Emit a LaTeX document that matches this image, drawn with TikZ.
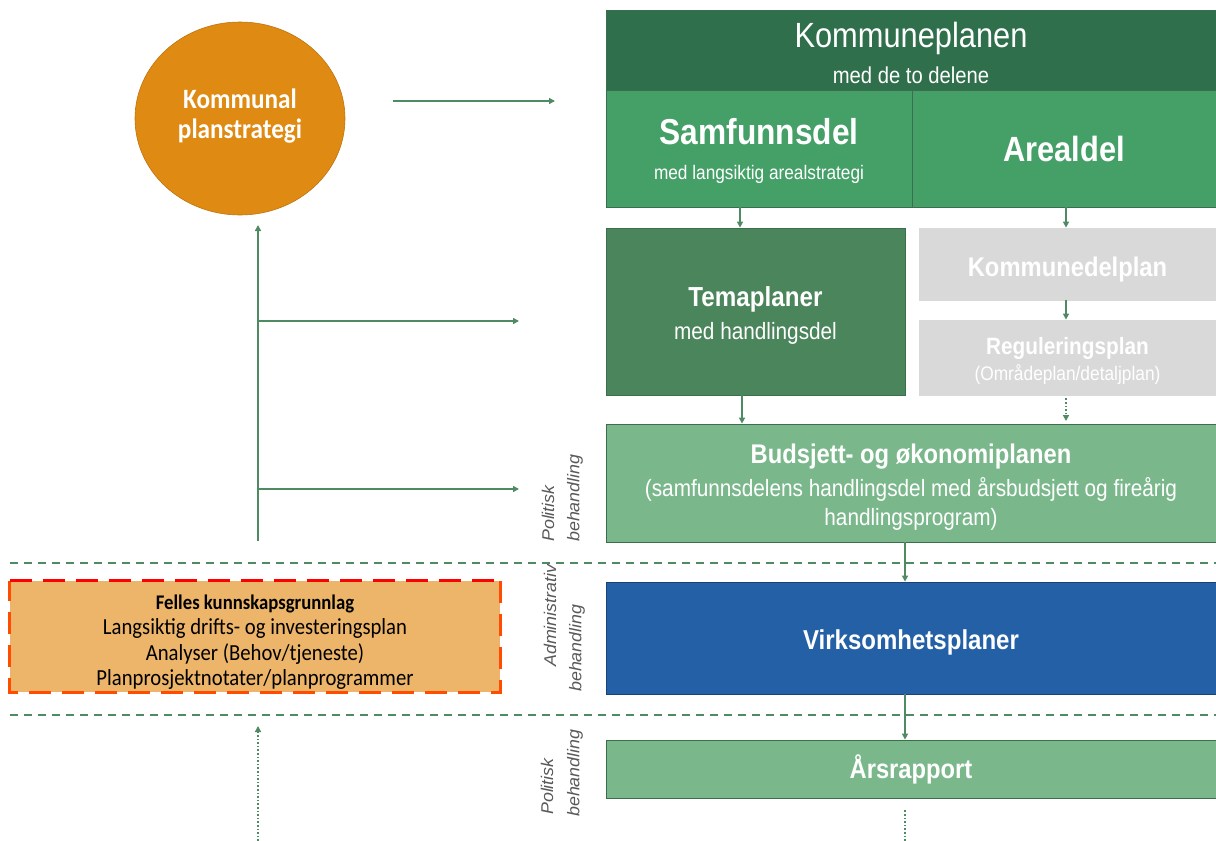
\documentclass[tikz,border=0pt]{standalone}
\usepackage{fontspec}
\setmainfont{Liberation Sans}[FakeStretch=0.88]
\newfontfamily\calfont{Carlito}[FakeStretch=0.9]
\newfontfamily\labfont{Liberation Sans}[FakeStretch=1.05]
\usetikzlibrary{arrows.meta,shapes.geometric}
\definecolor{kpdark}{HTML}{2F6F4B}
\definecolor{kpmid}{HTML}{45A068}
\definecolor{temac}{HTML}{4A855C}
\definecolor{grayc}{HTML}{D9D9D9}
\definecolor{budc}{HTML}{7AB88C}
\definecolor{bluec}{HTML}{2460A6}
\definecolor{orangec}{HTML}{DF8A12}
\definecolor{leftc}{HTML}{EDB56A}
\definecolor{arrc}{HTML}{4E8A62}
\definecolor{labc}{HTML}{595959}
\definecolor{edgec}{HTML}{3A6E4C}
\tikzset{
  box/.style={rectangle, inner sep=0pt, draw=edgec, line width=0.8pt, align=center, text=white},
  arr/.style={draw=arrc, line width=1.6pt, -{Triangle[length=6pt,width=6pt]}},
  dotarr/.style={draw=arrc, line width=1.6pt, dotted, -{Triangle[length=6pt,width=6pt]}},
  sep/.style={draw=arrc, line width=1.4pt, dash pattern=on 8pt off 6pt},
  vlab/.style={rotate=90, anchor=west, inner sep=0pt, text=labc, font=\labfont\fontsize{17}{20}\selectfont\itshape},
}
\begin{document}
\begin{tikzpicture}[x=1pt,y=-1pt]
\useasboundingbox (0,0) rectangle (1216,841);
% right column boxes
\node[box, fill=kpdark, minimum width=610pt, minimum height=80pt, font=\fontsize{23}{36}\selectfont] (kp) at (911,50)
  {{\fontsize{35}{40}\selectfont\rule{0pt}{31.5pt}Kommuneplanen}\\med de to delene};
\node[box, fill=kpmid, minimum width=306pt, minimum height=117pt, font=\fontsize{19.6}{35}\selectfont] (samf) at (759,148.5)
  {{\fontsize{36}{40}\selectfont\bfseries\rule{0pt}{32pt}Samfunnsdel}\\med langsiktig arealstrategi};
\node[box, fill=kpmid, minimum width=304pt, minimum height=117pt, font=\fontsize{35}{40}\selectfont\bfseries] (areal) at (1064,148.5)
  {Arealdel};
\node[box, fill=temac, minimum width=299pt, minimum height=167pt, font=\fontsize{23.6}{33}\selectfont] (tema) at (755.5,311.5)
  {{\fontsize{27.5}{32}\selectfont\bfseries\rule{0pt}{28pt}Temaplaner}\\med handlingsdel};
\node[box, fill=grayc, draw=grayc, minimum width=297pt, minimum height=72pt, font=\fontsize{27}{30}\selectfont\bfseries] (kdp) at (1067.5,264)
  {\rule{0pt}{31pt}Kommunedelplan};
\node[box, fill=grayc, draw=grayc, minimum width=297pt, minimum height=75pt, font=\fontsize{19.7}{26}\selectfont] (reg) at (1067.5,357.5)
  {{\fontsize{23.6}{28}\selectfont\bfseries\rule{0pt}{25pt}Reguleringsplan}\\(Områdeplan/detaljplan)};
\node[box, fill=budc, minimum width=610pt, minimum height=118pt, font=\fontsize{23.6}{29}\selectfont] (bud) at (911,483)
  {{\fontsize{27}{32}\selectfont\bfseries\rule{0pt}{28pt}Budsjett- og økonomiplanen}\\[4pt]
   (samfunnsdelens handlingsdel med årsbudsjett og fireårig\\handlingsprogram)};
\node[box, fill=bluec, draw=bluec!70!black, minimum width=610pt, minimum height=112pt, font=\fontsize{27.3}{30}\selectfont\bfseries] (virk) at (911,638)
  {\rule{0pt}{28pt}Virksomhetsplaner};
\node[box, fill=budc, minimum width=610pt, minimum height=58pt, font=\fontsize{27}{30}\selectfont\bfseries] (aars) at (911,769)
  {Årsrapport};
% circle
\node[ellipse, fill=orangec, draw=orangec!85!black, line width=0.6pt, minimum width=210pt, minimum height=193pt, inner sep=0pt] (strat) at (240,118.5) {};
\node[text=white, align=center, font=\calfont\fontsize{28}{30}\selectfont\bfseries] (strattxt) at (240,116)
  {Kommunal\\planstrategi};
% left box
\node[rectangle, fill=leftc, minimum width=490pt, minimum height=111pt, inner sep=0pt, align=center,
  font=\calfont\fontsize{23}{25.5}\selectfont] (felles) at (255,636.5)
  {{\fontsize{20.8}{24}\selectfont\bfseries\rule{0pt}{26pt}Felles kunnskapsgrunnlag}\\Langsiktig drifts- og investeringsplan\\Analyser (Behov/tjeneste)\\Planprosjektnotater/planprogrammer};
\draw[draw=orange!60!red, line width=3pt, dash pattern=on 22pt off 11pt]
  (felles.north east) -- (felles.south east) -- (felles.south west) -- (felles.north west);
\draw[draw=red, line width=3pt, dash pattern=on 22pt off 11pt] (felles.north west) -- (felles.north east);
% rotated labels
\node[vlab] (lab1a) at (548,542) {Politisk};
\node[vlab] (lab1b) at (575,542) {behandling};
\node[vlab] (lab2a) at (550,667) {Administrativ};
\node[vlab] (lab2b) at (577,692) {behandling};
\node[vlab] (lab3a) at (547,815) {Politisk};
\node[vlab] (lab3b) at (575,817) {behandling};
% separators
\coordinate (s1a) at (10,563); \coordinate (s1b) at (1216,563);
\coordinate (s2a) at (10,715); \coordinate (s2b) at (1216,715);
\draw[sep] (s1a) -- (s1b);
\draw[sep] (s2a) -- (s2b);
% connectors
\draw[arr] (samf.south -| 740,0) -- (tema.north -| 740,0);
\draw[arr] (areal.south -| 1066,0) -- (kdp.north -| 1066,0);
\draw[arr] (kdp.south -| 1066,0) -- (reg.north -| 1066,0);
\draw[arr] (tema.south -| 742,0) -- (bud.north -| 742,0);
\draw[dotarr] (reg.south -| 1066,0) ++(0,3) -- (1066,421);
\draw[arr] (bud.south -| 905,0) -- (virk.north -| 905,0);
\draw[arr] (virk.south -| 905,0) -- (aars.north -| 905,0);
\coordinate (aend) at (905,841);
\draw[draw=arrc, line width=1.6pt, dotted] (aars.south -| 905,0) ++(0,12) -- (aend);
% left arrows
\coordinate (c1a) at (393,101); \coordinate (c1b) at (555,101);
\draw[arr] (c1a) -- (c1b);
\coordinate (vb) at (258,541); \coordinate (vt) at (258,225);
\draw[arr] (vb) -- (vt);
\coordinate (h1a) at (258,321); \coordinate (h1b) at (519,321);
\coordinate (h2a) at (258,489); \coordinate (h2b) at (519,489);
\draw[arr] (h1a) -- (h1b);
\draw[arr] (h2a) -- (h2b);
\coordinate (db) at (258,841); \coordinate (dt) at (258,726);
\draw[dotarr] (db) -- (dt);
\end{tikzpicture}
\end{document}
